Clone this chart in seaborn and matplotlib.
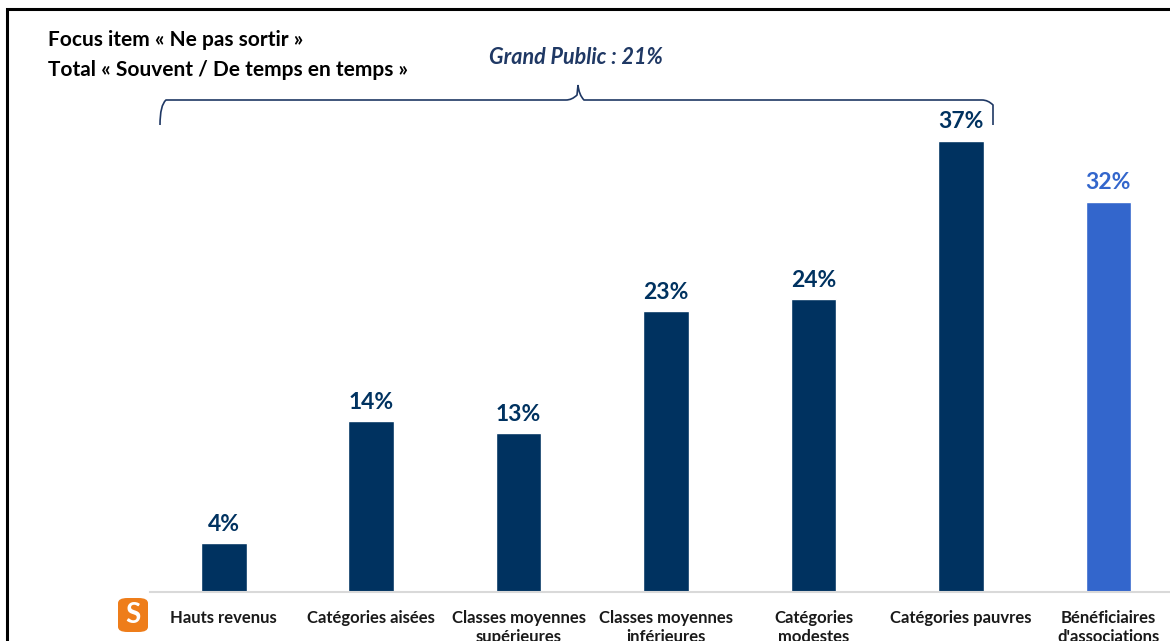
import numpy as np
import pandas as pd
import matplotlib.pyplot as plt
import seaborn as sns
from matplotlib.patches import Rectangle, FancyBboxPatch, PathPatch
from matplotlib.path import Path

# data
categories = ["Hauts revenus", "Catégories aisées", "Classes moyennes\nsupérieures",
              "Classes moyennes\ninférieures", "Catégories\nmodestes",
              "Catégories pauvres", "Bénéficiaires\nd'associations"]
values = [4, 14, 13, 23, 24, 37, 32]
groups = ["gp", "gp", "gp", "gp", "gp", "gp", "asso"]
grand_public = 21

navy = "#003260"
blue = "#3366CC"
palette = {"gp": navy, "asso": blue}

sns.set_style("white")
plt.rcParams['font.family'] = ['Lato', 'DejaVu Sans']

df = pd.DataFrame({"cat": categories, "val": values, "grp": groups})

W, H = 1170, 641
fig = plt.figure(figsize=(W / 100, H / 100), dpi=100)
ax = fig.add_axes([150 / W, 1 - 592 / H, 1 - 150 / W, 488 / H])

sns.barplot(data=df, x="cat", y="val", hue="grp", palette=palette,
            dodge=False, width=0.31, legend=False, ax=ax, saturation=1)

for i, (v, g) in enumerate(zip(values, groups)):
    ax.annotate(f"{v}%", (i, v), xytext=(0, 6), textcoords="offset points",
                ha="center", va="bottom", fontsize=16.5, fontweight="bold",
                color=palette[g])

ax.set_ylim(0, 40)
ax.set_xlim(-0.5, (W - 224) / 147.4)
ax.set_xlabel("")
ax.set_ylabel("")
ax.set_yticks([])
ax.tick_params(axis="x", length=0, pad=13, labelsize=12)
for lab in ax.get_xticklabels():
    lab.set_fontweight("bold")
    lab.set_color("#1a1a1a")
for s in ["top", "right", "left"]:
    ax.spines[s].set_visible(False)
ax.spines["bottom"].set_color("#D9D9D9")
ax.spines["bottom"].set_linewidth(1.5)

# frame
fig.patches.append(Rectangle((7 / W, -0.1), 1.2, 1 - 9 / H + 0.1, transform=fig.transFigure,
                             fill=False, edgecolor="black", linewidth=2.2))

# headings
fig.text(48 / W, 1 - 40 / H, "Focus item « Ne pas sortir »", fontsize=15,
         fontweight="bold", color="black", va="center")
fig.text(48 / W, 1 - 70 / H, "Total « Souvent / De temps en temps »", fontsize=15,
         fontweight="bold", color="black", va="center")
fig.text(576 / W, 1 - 57 / H, f"Grand Public : {grand_public}%", fontsize=15.5,
         fontweight="bold", fontstyle="italic", color="#1F3864", ha="center", va="center")

# brace
def px(x, y):
    return (x / W, 1 - y / H)

verts = [px(160, 125), px(160, 105), px(166, 100), px(172, 100),
         px(566, 100), px(572, 100), px(577, 95), px(578, 85),
         px(579, 95), px(584, 100), px(590, 100),
         px(982, 100), px(988, 100), px(993, 105), px(993, 125)]
codes = [Path.MOVETO, Path.CURVE3, Path.CURVE3, Path.LINETO,
         Path.LINETO, Path.CURVE3, Path.CURVE3, Path.LINETO,
         Path.CURVE3, Path.CURVE3, Path.LINETO,
         Path.LINETO, Path.CURVE3, Path.CURVE3, Path.LINETO]
fig.patches.append(PathPatch(Path(verts, codes), transform=fig.transFigure,
                             fill=False, edgecolor="#1F3864", linewidth=1.2))

# logo
fig.patches.append(FancyBboxPatch(px(118, 632), 30 / W, 34 / H, transform=fig.transFigure,
                                  boxstyle="round,pad=0,rounding_size=0.008",
                                  facecolor="#EE7D1A", edgecolor="none"))
fig.text(133 / W, 1 - 615 / H, "S", fontsize=20, fontweight="bold", color="white",
         ha="center", va="center")

fig.savefig("out.png", dpi=100)
